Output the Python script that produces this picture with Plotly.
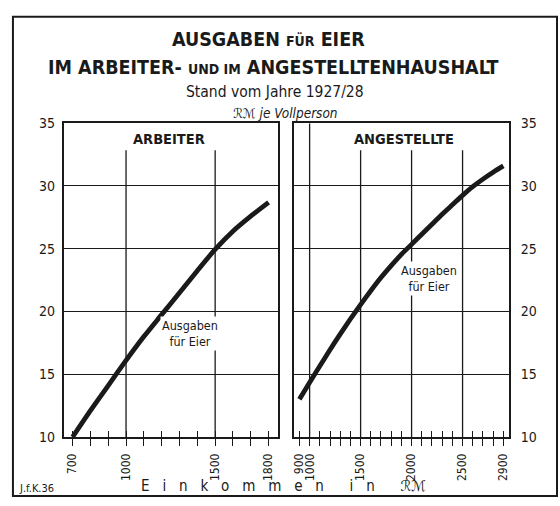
import plotly.graph_objects as go

# ---- data ----
arb_income = [700, 800, 900, 1000, 1100, 1200, 1300, 1400, 1500, 1600, 1700, 1800]
arb_eggs = [10.0, 12.1, 14.1, 16.1, 18.0, 19.75, 21.5, 23.25, 24.95, 26.4, 27.6, 28.7]

ang_income = [900, 1000, 1100, 1200, 1300, 1400, 1500, 1600, 1700, 1800, 1900,
              2000, 2100, 2200, 2300, 2400, 2500, 2600, 2700, 2800, 2900]
ang_eggs = [13.0, 14.35, 15.65, 16.95, 18.2, 19.4, 20.55, 21.65, 22.7, 23.65, 24.55,
            25.35, 26.15, 26.95, 27.75, 28.5, 29.25, 29.95, 30.55, 31.1, 31.6]

arb_ticks = list(range(700, 1801, 100))
arb_labels = {700: "700", 1000: "1000", 1500: "1500", 1800: "1800"}
ang_ticks = list(range(900, 2901, 100))
ang_labels = {900: "900", 1000: "1000", 1500: "1500", 2000: "2000", 2500: "2500", 2900: "2900"}
y_ticks = [10, 15, 20, 25, 30, 35]

arb_vgrid = [1000, 1500]
ang_vgrid_full = [1000]
ang_vgrid = [1500, 2000, 2500]

W, H = 560, 506
FONT = "DejaVu Sans Condensed, Roboto, DejaVu Sans, sans-serif"
INK = "#1a1a1a"

def px(x):
    return x / W

def py(y):
    return 1 - y / H

fig = go.Figure()
fig.add_trace(go.Scatter(x=arb_income, y=arb_eggs, mode="lines", xaxis="x", yaxis="y",
                         line=dict(color=INK, width=4.8, shape="spline", smoothing=0.6), hoverinfo="skip"))
fig.add_trace(go.Scatter(x=ang_income, y=ang_eggs, mode="lines", xaxis="x2", yaxis="y2",
                         line=dict(color=INK, width=4.8, shape="spline", smoothing=0.6), hoverinfo="skip"))
# invisible traces to make the overlay tick axes render
fig.add_trace(go.Scatter(x=[arb_ticks[0]], y=[y_ticks[0]], mode="markers", xaxis="x3", yaxis="y",
                         marker=dict(opacity=0), hoverinfo="skip"))
fig.add_trace(go.Scatter(x=[ang_ticks[0]], y=[y_ticks[0]], mode="markers", xaxis="x4", yaxis="y2",
                         marker=dict(opacity=0), hoverinfo="skip"))

dom1 = [px(62), px(277)]
dom2 = [px(294), px(510)]
ydom = [py(443), py(119)]
r1 = [650, 1850]
r2 = [851, 2958]

axcommon = dict(showline=True, linecolor=INK, linewidth=1.6, mirror=True, zeroline=False)

fig.update_layout(
    width=W, height=H, margin=dict(l=0, r=0, t=0, b=0),
    paper_bgcolor="white", plot_bgcolor="white", showlegend=False,
    font=dict(family=FONT, color=INK),
    xaxis=dict(domain=dom1, range=r1, anchor="y", tickmode="array", tickvals=arb_ticks,
               ticktext=[arb_labels.get(v, "") for v in arb_ticks], ticks="outside", ticklen=7,
               tickwidth=1.4, tickcolor=INK, tickangle=-90, tickfont=dict(size=12),
               ticklabelstandoff=3, showgrid=False, **axcommon),
    xaxis3=dict(overlaying="x", range=r1, anchor="y", tickmode="array", tickvals=arb_ticks,
                ticks="inside", ticklen=6, tickwidth=1.4, tickcolor=INK, showticklabels=False,
                showgrid=False, showline=False, zeroline=False),
    xaxis2=dict(domain=dom2, range=r2, anchor="y2", tickmode="array", tickvals=ang_ticks,
                ticktext=[ang_labels.get(v, "") for v in ang_ticks], ticks="outside", ticklen=7,
                tickwidth=1.4, tickcolor=INK, tickangle=-90, tickfont=dict(size=12),
                ticklabelstandoff=3, showgrid=False, **axcommon),
    xaxis4=dict(overlaying="x2", range=r2, anchor="y2", tickmode="array", tickvals=ang_ticks,
                ticks="inside", ticklen=6, tickwidth=1.4, tickcolor=INK, showticklabels=False,
                showgrid=False, showline=False, zeroline=False),
    yaxis=dict(domain=ydom, range=[10, 35], anchor="x", tickmode="array", tickvals=y_ticks,
               ticks="", tickfont=dict(size=14), ticklabelstandoff=4, showgrid=True,
               gridcolor=INK, gridwidth=1.3, **axcommon),
    yaxis2=dict(domain=ydom, range=[10, 35], anchor="x2", side="right", tickmode="array",
                tickvals=y_ticks, ticks="", tickfont=dict(size=14), ticklabelstandoff=7,
                showgrid=True, gridcolor=INK, gridwidth=1.3, **axcommon),
)

grid_top = 10 + (443 - 147) / (324 / 25)
shapes = []
for v in arb_vgrid:
    shapes.append(dict(type="line", xref="x", yref="y", x0=v, x1=v, y0=10, y1=grid_top,
                       line=dict(color=INK, width=1.3), layer="below"))
for v in ang_vgrid_full:
    shapes.append(dict(type="line", xref="x2", yref="y2", x0=v, x1=v, y0=10, y1=35,
                       line=dict(color=INK, width=1.3), layer="below"))
for v in ang_vgrid:
    shapes.append(dict(type="line", xref="x2", yref="y2", x0=v, x1=v, y0=10, y1=grid_top,
                       line=dict(color=INK, width=1.3), layer="below"))
# outer frame
shapes.append(dict(type="rect", xref="paper", yref="paper", x0=px(11), x1=px(558),
                   y0=py(504), y1=py(9), line=dict(color=INK, width=2)))
fig.update_layout(shapes=shapes)

def ann(text, x, y, size, bg=None, xanchor="center", **kw):
    d = dict(text=text, x=px(x), y=py(y), xref="paper", yref="paper", showarrow=False,
             xanchor=xanchor, yanchor="middle", font=dict(size=size, color=INK, family=FONT))
    if bg:
        d["bgcolor"] = bg
    d.update(kw)
    fig.add_annotation(**d)

ann("<b>AUSGABEN <span style='font-size:14px'>FÜR</span> EIER</b>", 268, 33, 19.5)
ann("<b>IM ARBEITER- <span style='font-size:14px'>UND IM</span> ANGESTELLTENHAUSHALT</b>", 273, 61, 19.5)
ann("Stand vom Jahre 1927/28", 274, 87, 15.5)
ann("<i>ℛℳ je Vollperson</i>", 285, 108, 13.5)
ann("<b>ARBEITER</b>", 168, 135, 14.5)
ann("<b>ANGESTELLTE</b>", 404, 135, 14.5)
ann("Ausgaben<br>für Eier", 189, 336, 12.5, bg="white", borderpad=1)
ann("Ausgaben<br>für Eier", 429, 279, 12.5, bg="white", borderpad=1)
ann("E   i   n   k   o   m   m   e   n      i   n      <i>ℛℳ</i>", 283, 494, 15)
ann("J.f.K.36", 15, 496, 11, xanchor="left")

fig.write_html("out.html", config={"displayModeBar": False},
               post_script="document.body.style.margin='0';document.body.style.overflow='hidden';")
